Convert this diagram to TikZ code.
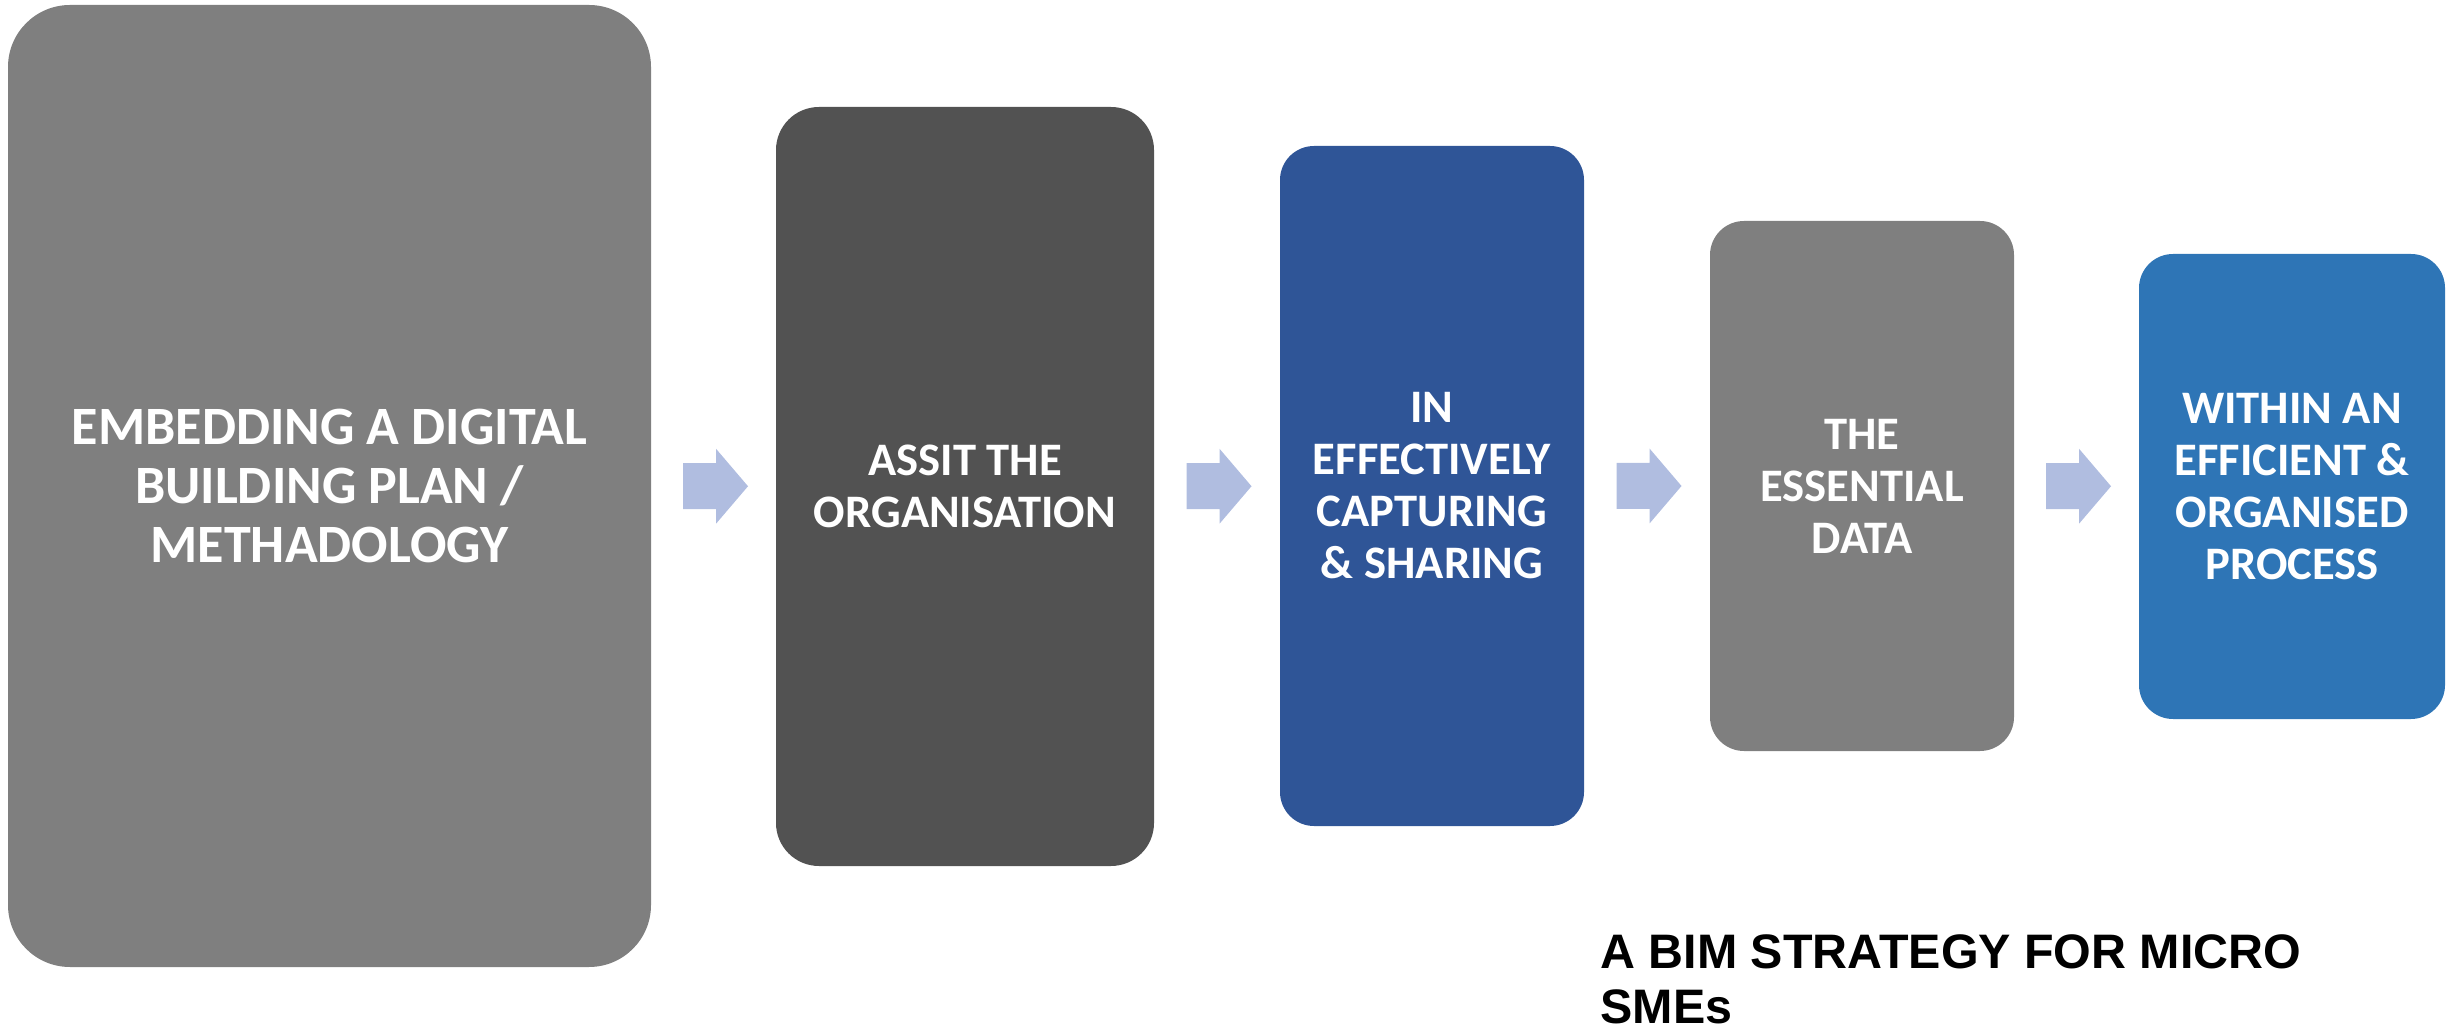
\documentclass[tikz,border=0pt]{standalone}
\usepackage{fontspec}
\setmainfont{Carlito}
\newfontfamily\captionfont{Liberation Sans}
\usetikzlibrary{calc}
\definecolor{boxgray}{HTML}{7F7F7F}
\definecolor{boxdark}{HTML}{525252}
\definecolor{boxnavy}{HTML}{2F5597}
\definecolor{boxblue}{HTML}{2E75B6}
\definecolor{arrowc}{HTML}{B0BDE0}
\tikzset{
  stagebox/.style={fill=#1, draw=none, text=white, align=center,
    font=\bfseries\fontsize{23.3}{26}\selectfont, inner sep=0pt},
  blockarrow/.pic={\fill[arrowc] (-32.5,-23) -- (0.5,-23) -- (0.5,-37.5) -- (32.5,0)
      -- (0.5,37.5) -- (0.5,23) -- (-32.5,23) -- cycle;}
}
\begin{document}
\begin{tikzpicture}[x=0.5pt,y=-0.5pt]
\useasboundingbox (0,0) rectangle (2463,1031);
\node[stagebox=boxgray, minimum width=321.5pt, minimum height=481pt, rounded corners=31pt,
  font=\bfseries\fontsize{27}{29.5}\selectfont] (b1) at (329.5,486)
  {EMBEDDING A DIGITAL\\BUILDING PLAN /\\METHADOLOGY};
\node[stagebox=boxdark, minimum width=189pt, minimum height=379.5pt, rounded corners=21.5pt] (b2) at (965,486.5)
  {ASSIT THE\\ORGANISATION};
\node[stagebox=boxnavy, minimum width=152pt, minimum height=340pt, rounded corners=17pt] (b3) at (1432,486)
  {IN\\EFFECTIVELY\\CAPTURING\\\& SHARING};
\node[stagebox=boxgray, minimum width=152pt, minimum height=265pt, rounded corners=17pt] (b4) at (1862,486)
  {THE\\ESSENTIAL\\DATA};
\node[stagebox=boxblue, minimum width=153pt, minimum height=232.5pt, rounded corners=17pt] (b5) at (2292,486.5)
  {WITHIN AN\\EFFICIENT \&\\ORGANISED\\PROCESS};
\coordinate (a1) at ($(b1.east)!0.5!(b2.west)+(2,0)$);
\coordinate (a2) at ($(b2.east)!0.5!(b3.west)+(2,0)$);
\coordinate (a3) at ($(b3.east)!0.5!(b4.west)+(2,0)$);
\coordinate (a4) at ($(b4.east)!0.5!(b5.west)+(2,0)$);
\pic at (a1) {blockarrow};
\pic at (a2) {blockarrow};
\pic at (a3) {blockarrow};
\pic at (a4) {blockarrow};
\node[anchor=base west, align=left, inner sep=0pt,
  font=\captionfont\bfseries\fontsize{24.2}{27.5}\selectfont] (cap) at (1600,1023)
  {A BIM STRATEGY FOR MICRO\\SMEs};
\end{tikzpicture}
\end{document}
